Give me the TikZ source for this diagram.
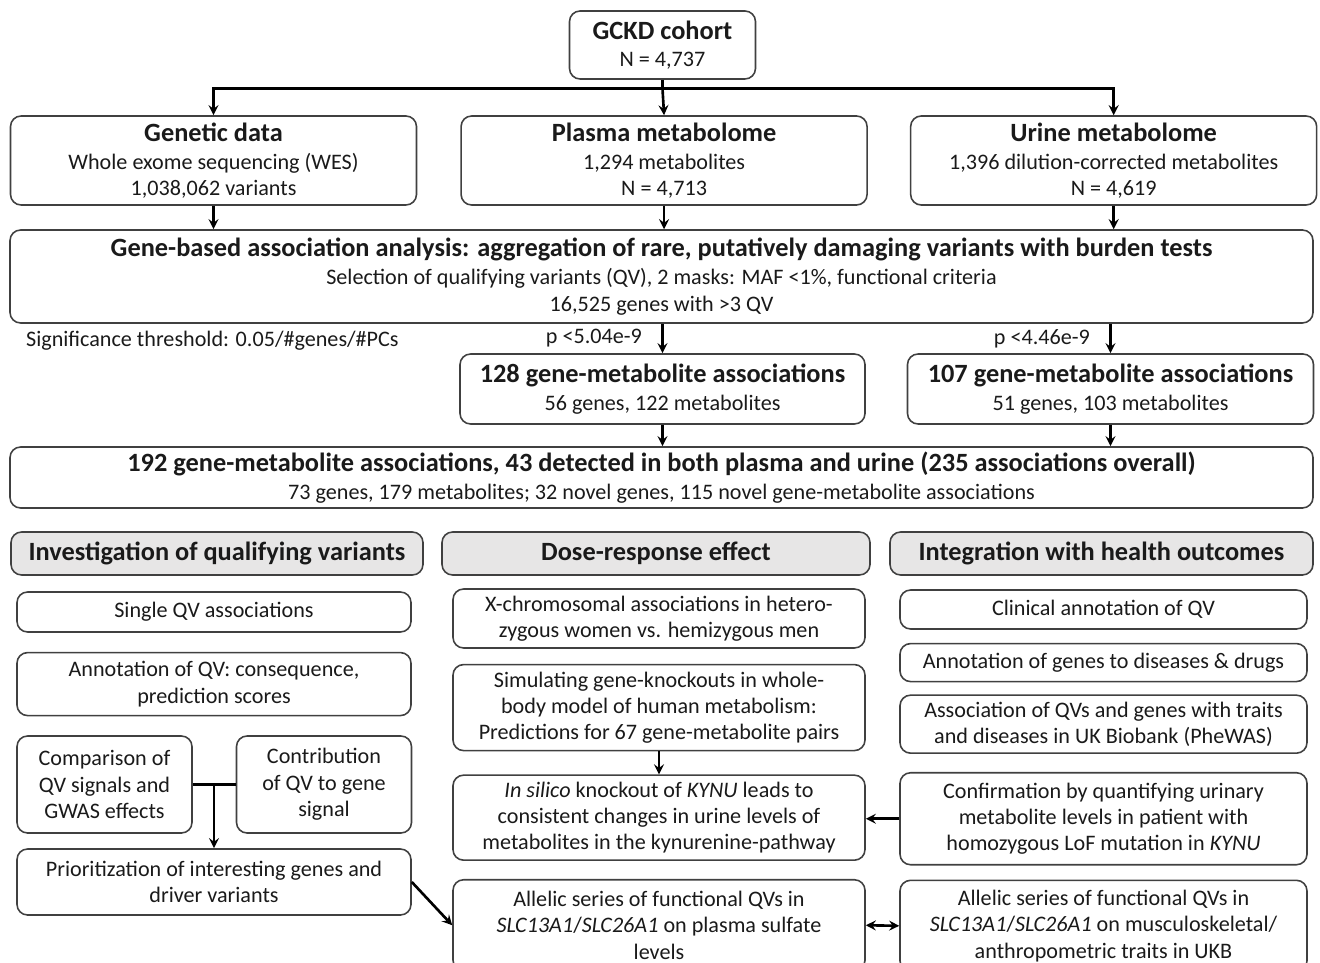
\documentclass[tikz,border=0pt]{standalone}
\usepackage{fontspec}
\setmainfont{Carlito}
\usetikzlibrary{arrows,positioning}
\definecolor{gckdborder}{RGB}{64, 64, 64}
\definecolor{gckdhead}{RGB}{231, 230, 230}
\definecolor{gckdtext}{RGB}{26, 26, 26}
\newcommand{\gckdbody}{\fontsize{12.6}{15}\selectfont}
\newcommand{\gckdtitle}{\fontsize{15}{17}\selectfont\bfseries}
\newcommand{\gckdwide}{\fontsize{15}{17}\selectfont\bfseries}
\newcommand{\gckdhead}{\fontsize{15}{17}\selectfont\bfseries}

\begin{document}
\begin{tikzpicture}[
		% Node styles
		databox/.style={draw=gckdborder, fill=white, text=gckdtext, rounded corners=6pt,
				line width=0.9pt, font=\gckdbody, align=center, inner sep=2pt},
		header/.style={databox, fill=gckdhead, font=\gckdhead,
				minimum height=0.86cm},
		leftbox/.style={databox, minimum width=7.88cm},
		midbox/.style={databox, minimum width=8.24cm},
		rightbox/.style={databox, minimum width=8.14cm},
		note/.style={text=gckdtext, font=\gckdbody, inner sep=1pt},
		connector/.style={->, >=stealth, draw=black, line width=1.5pt},
		joiner/.style={draw=black, line width=1.5pt},
	]

	\useasboundingbox (0,0) rectangle (26.4,-19.26);

	% Cohort and the three data sources
	\node[databox, minimum width=3.72cm, minimum height=1.36cm] (gckd) at (13.25,-0.9)
		{{\gckdtitle GCKD cohort}\\ N = 4,737};

	\node[databox, minimum width=8.12cm, minimum height=1.78cm] (genetic) at (4.27,-3.21)
		{{\gckdtitle Genetic data}\\[1pt] Whole exome sequencing (WES)\\ 1,038,062 variants};
	\node[databox, minimum width=8.12cm, minimum height=1.78cm] (plasma) [right=0.86cm of genetic]
		{{\gckdtitle Plasma metabolome}\\[1pt] 1,294 metabolites\\ N = 4,713};
	\node[databox, minimum width=8.12cm, minimum height=1.78cm] (urine) [right=0.84cm of plasma]
		{{\gckdtitle Urine metabolome}\\[1pt] 1,396 dilution-corrected metabolites\\ N = 4,619};

	% Burden tests
	\node[databox, minimum width=26.06cm, minimum height=1.86cm] (gene_based) at (13.23,-5.53)
		{{\gckdwide Gene-based association analysis: aggregation of rare, putatively damaging variants with burden tests}\\[1pt]
		Selection of qualifying variants (QV), 2 masks: MAF <1\%, functional criteria\\
		16,525 genes with >3 QV};

	\node[note, anchor=west] (threshold) at (0.48,-6.82) {Significance threshold: 0.05/\#genes/\#PCs};

	\node[databox, minimum width=8.1cm, minimum height=1.4cm] (assoc_plasma) at (13.25,-7.78)
		{{\gckdtitle 128 gene-metabolite associations}\\[1pt] 56 genes, 122 metabolites};
	\node[databox, minimum width=8.12cm, minimum height=1.4cm] (assoc_urine) at (22.21,-7.78)
		{{\gckdtitle 107 gene-metabolite associations}\\[1pt] 51 genes, 103 metabolites};

	\node[databox, minimum width=26.06cm, minimum height=1.22cm] (combined) at (13.23,-9.55)
		{{\gckdwide 192 gene-metabolite associations, 43 detected in both plasma and urine (235 associations overall)}\\[1pt]
		73 genes, 179 metabolites; 32 novel genes, 115 novel gene-metabolite associations};

	% Follow-up sections
	\node[header, minimum width=8.24cm] (qv_head) at (4.34,-11.07) {Investigation of qualifying variants};
	\node[header, minimum width=8.56cm] (dose_head) at (13.12,-11.07) {Dose-response effect};
	\node[header, minimum width=8.46cm] (health_head) at (22.03,-11.07) {Integration with health outcomes};

	% Left column
	\node[leftbox, minimum height=0.8cm] (single_qv) at (4.28,-12.24) {Single QV associations};
	\node[leftbox, minimum height=1.26cm] (annot_qv) [below=0.38cm of single_qv]
		{Annotation of QV: consequence,\\ prediction scores};
	\node[databox, minimum width=3.5cm, minimum height=1.94cm] (comparison) at (2.09,-15.69)
		{Comparison of\\ QV signals and\\ GWAS effects};
	\node[databox, minimum width=3.5cm, minimum height=1.94cm] (contribution) at (6.48,-15.69)
		{Contribution\\ of QV to gene\\ signal};
	\node[leftbox, minimum height=1.32cm] (prioritization) at (4.28,-17.64)
		{Prioritization of interesting genes and\\ driver variants};

	% Middle column
	\node[midbox, minimum height=1.18cm] (xchrom) at (13.18,-12.37)
		{X-chromosomal associations in hetero-\\ zygous women vs. hemizygous men};
	\node[midbox, minimum height=1.72cm] (simulating) [below=0.3cm of xchrom]
		{Simulating gene-knockouts in whole-\\ body model of human metabolism:\\ Predictions for 67 gene-metabolite pairs};
	\node[midbox, minimum height=1.7cm] (insilico) [below=0.46cm of simulating]
		{\textit{In silico} knockout of \textit{KYNU} leads to\\ consistent changes in urine levels of\\ metabolites in the kynurenine-pathway};
	\node[midbox, minimum height=1.82cm] (allelic_plasma) [below=0.36cm of insilico]
		{Allelic series of functional QVs in\\ \textit{SLC13A1}/\textit{SLC26A1} on plasma sulfate\\ levels};

	% Right column
	\node[rightbox, minimum height=0.78cm] (clinical) at (22.07,-12.19) {Clinical annotation of QV};
	\node[rightbox, minimum height=0.76cm] (annot_genes) [below=0.26cm of clinical]
		{Annotation of genes to diseases \& drugs};
	\node[rightbox, minimum height=1.16cm] (phewas) [below=0.24cm of annot_genes]
		{Association of QVs and genes with traits\\ and diseases in UK Biobank (PheWAS)};
	\node[rightbox, minimum height=1.84cm] (confirmation) [below=0.36cm of phewas]
		{Confirmation by quantifying urinary\\ metabolite levels in patient with\\ homozygous LoF mutation in \textit{KYNU}};
	\node[rightbox, minimum height=1.82cm] (allelic_ukb) [below=0.28cm of confirmation]
		{Allelic series of functional QVs in\\ \textit{SLC13A1}/\textit{SLC26A1} on musculoskeletal/\\ anthropometric traits in UKB};

	% Connections
	\draw[joiner] (gckd.south) -- ++(0,-0.18) coordinate (split);
	\draw[connector] (split) -| (genetic.north);
	\draw[connector] (split) -- (plasma.north);
	\draw[connector] (split) -| (urine.north);

	\draw[connector] (genetic.south) -- (genetic.south |- gene_based.north);
	\draw[connector] (plasma.south) -- (plasma.south |- gene_based.north);
	\draw[connector] (urine.south) -- (urine.south |- gene_based.north);

	\draw[connector] (assoc_plasma.north |- gene_based.south) -- node[note, left=0.35cm] (p_plasma) {p <5.04e-9} (assoc_plasma.north);
	\draw[connector] (assoc_urine.north |- gene_based.south) -- node[note, left=0.35cm] (p_urine) {p <4.46e-9} (assoc_urine.north);

	\draw[connector] (assoc_plasma.south) -- (assoc_plasma.south |- combined.north);
	\draw[connector] (assoc_urine.south) -- (assoc_urine.south |- combined.north);

	% Qualifying variants
	\draw[joiner] (comparison.east) -- (contribution.west);
	\coordinate (qv_join) at (4.28,-15.69);
	\draw[connector] (qv_join) -- (qv_join |- prioritization.north);
	\draw[connector] (prioritization.east) -- (allelic_plasma.west);

	% Dose-response and health outcomes
	\draw[connector] (simulating.south) -- (insilico.north);
	\draw[connector] (confirmation.west) -- (confirmation.west -| insilico.east);
	\draw[connector, <->] (allelic_plasma.east) -- (allelic_ukb.west);

\end{tikzpicture}
\end{document}
